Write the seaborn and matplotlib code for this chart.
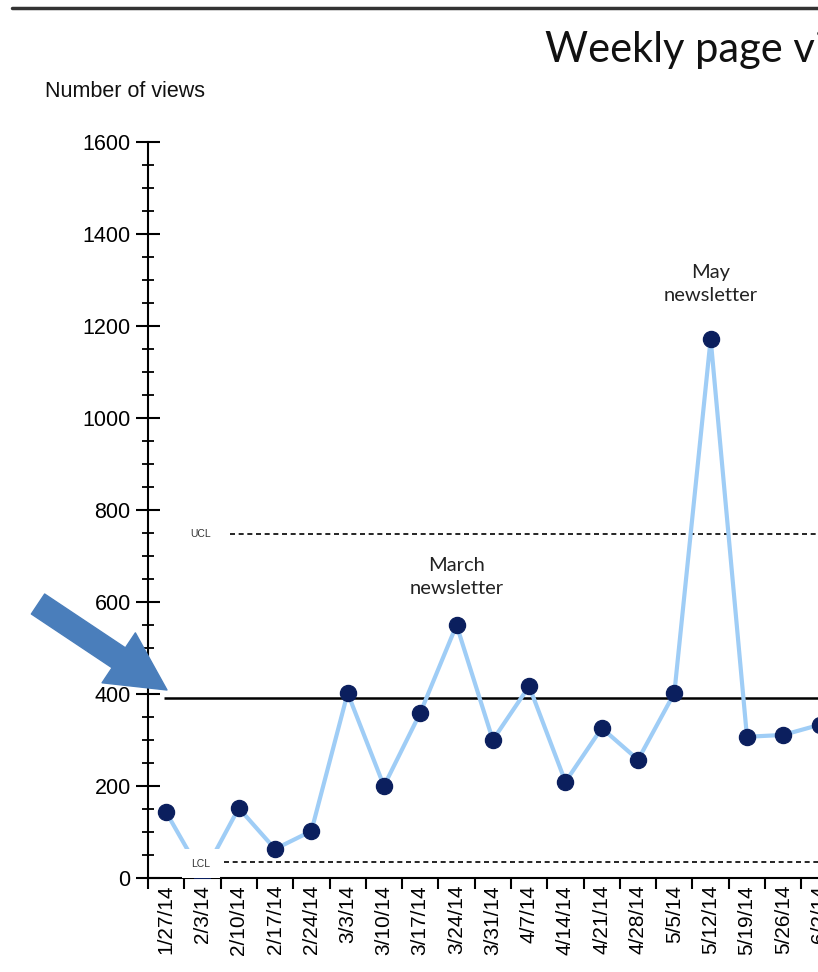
import numpy as np
import pandas as pd
import seaborn as sns
import matplotlib.pyplot as plt
from matplotlib.ticker import MultipleLocator, FixedLocator
from matplotlib.patches import FancyArrow
from matplotlib.lines import Line2D

# =====================================================
# Data
# =====================================================

weeks = [
    "1/27/14", "2/3/14", "2/10/14", "2/17/14", "2/24/14", "3/3/14",
    "3/10/14", "3/17/14", "3/24/14", "3/31/14", "4/7/14", "4/14/14",
    "4/21/14", "4/28/14", "5/5/14", "5/12/14", "5/19/14", "5/26/14",
    "6/2/14",
]
views = [
    143, 5, 152, 63, 102, 402,
    200, 359, 550, 300, 417, 209,
    326, 257, 402, 1172, 307, 311,
    333,
]
center_line = 391
ucl = 748
lcl = 35

note_texts = ["March\nnewsletter", "May\nnewsletter"]
note_weeks = ["3/24/14", "5/12/14"]
note_levels = [654, 1291]

df = pd.DataFrame({"week": weeks, "views": views})
df["pos"] = np.arange(len(df))

# =====================================================
# Figure
# =====================================================

W, H = 818, 972
sns.set_style("white")
plt.rcParams["font.family"] = ["Liberation Sans", "DejaVu Sans"]
plt.rcParams["text.color"] = "black"
plt.rcParams["xtick.color"] = "black"
plt.rcParams["ytick.color"] = "black"

fig = plt.figure(figsize=(W / 100, H / 100), dpi=100)

cell = 36.3
n = len(weeks)
ax_left, ax_bottom, ax_height = 148, 94, 736
ax = fig.add_axes([ax_left / W, ax_bottom / H, n * cell / W, ax_height / H])

line_color = "#9fcdf6"
dot_color = "#0b1f5e"

sns.lineplot(
    data=df, x="pos", y="views",
    color=line_color, lw=3, ax=ax, zorder=2
)
sns.scatterplot(
    data=df, x="pos", y="views",
    color=dot_color, edgecolor=dot_color, s=135, ax=ax, zorder=3
)

# control lines
ax.hlines(center_line, -0.05, n, color="black", lw=1.8, zorder=1)
ax.hlines(ucl, 1.76, n, color="black", lw=1.2, linestyles=(0, (3, 2.2)), zorder=1)
ax.hlines(lcl, 1.6, n, color="black", lw=1.2, linestyles=(0, (3, 2.2)), zorder=1)

ax.text(0.96, ucl, "UCL", fontsize=7.5, color="#333333",
        ha="center", va="center", zorder=5)
ax.text(0.96, lcl - 4, "LCL", fontsize=7.5, color="#333333",
        ha="center", va="center", zorder=5,
        bbox=dict(boxstyle="square,pad=0.9", fc="white", ec="none"))

for txt, wk, lvl in zip(note_texts, note_weeks, note_levels):
    ax.text(weeks.index(wk), lvl, txt, fontfamily="Lato", fontsize=14.5,
            ha="center", va="center", linespacing=1.4, color="#222222")

ax.set_xlim(-0.5, n - 0.5)
ax.set_ylim(0, 1600)

# y axis ticks
ax.yaxis.set_major_locator(MultipleLocator(200))
ax.yaxis.set_minor_locator(MultipleLocator(50))
ax.tick_params(axis="y", which="major", direction="inout", length=17,
               width=1.5, labelsize=15.5, pad=4, left=True)
ax.tick_params(axis="y", which="minor", direction="inout", length=8,
               width=1.3, left=True)

# x axis: labels at centers, tick marks at boundaries
ax.xaxis.set_major_locator(FixedLocator(df["pos"].tolist()))
ax.set_xticklabels(weeks, rotation=90)
ax.xaxis.set_minor_locator(FixedLocator(np.arange(n + 1) - 0.5))
ax.tick_params(axis="x", which="major", length=0, labelsize=15, pad=5)
ax.tick_params(axis="x", which="minor", direction="out", length=8,
               width=1.5, bottom=True)

ax.set_xlabel("")
ax.set_ylabel("")
sns.despine(ax=ax)
for s in ["left", "bottom"]:
    ax.spines[s].set_color("black")
    ax.spines[s].set_linewidth(1.5)

# =====================================================
# Titles and decorations
# =====================================================

fig.text(545 / W, 1 - 62 / H, "Weekly page views", fontfamily="Lato",
         fontsize=30, ha="left", va="baseline", color="#111111")
fig.text(45 / W, 1 - 97 / H, "Number of views", fontsize=15.5,
         ha="left", va="baseline", color="#111111")

fig.add_artist(Line2D([12 / W, 1], [1 - 8 / H, 1 - 8 / H],
                      color="#333333", lw=2.5))

ov = fig.add_axes([0, 0, 1, 1], zorder=10)
ov.set_xlim(0, W)
ov.set_ylim(H, 0)
ov.axis("off")
ov.patch.set_visible(False)
ov.add_patch(FancyArrow(38, 604, 129, 86, width=24, head_width=60,
                        head_length=58, length_includes_head=True,
                        color="#4a7ebb", joinstyle="round"))

fig.savefig("out.png", dpi=100)
plt.close(fig)
